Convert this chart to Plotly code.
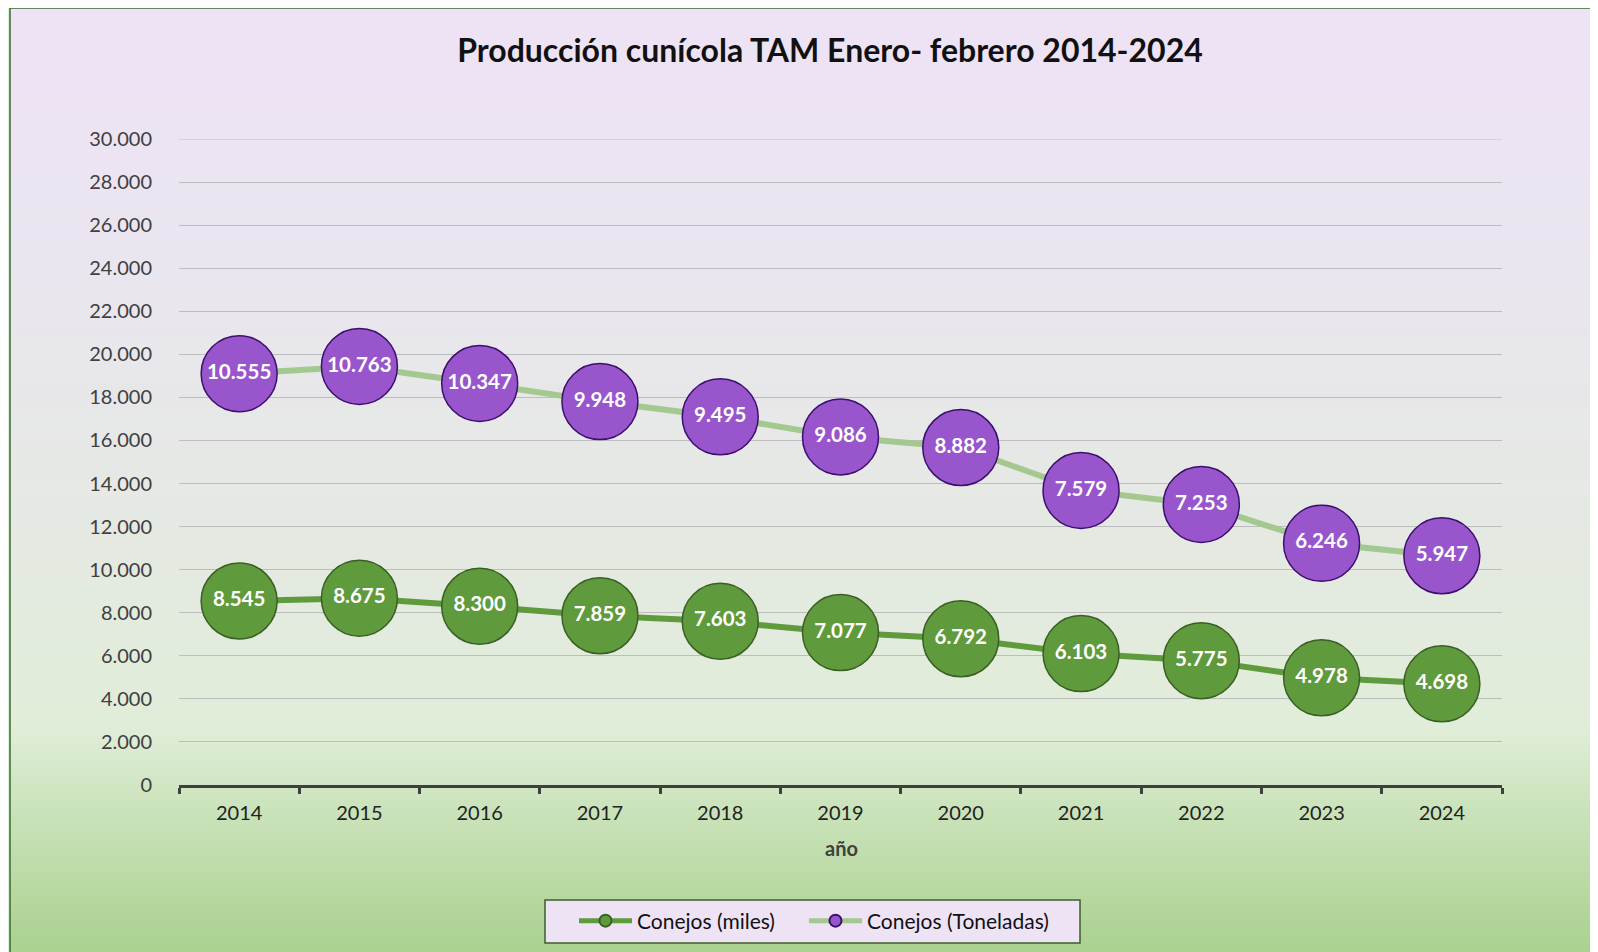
import plotly.graph_objects as go
import numpy as np

years = ["2014", "2015", "2016", "2017", "2018", "2019", "2020", "2021", "2022", "2023", "2024"]
conejos_miles = [8545, 8675, 8300, 7859, 7603, 7077, 6792, 6103, 5775, 4978, 4698]
conejos_toneladas = [10555, 10763, 10347, 9948, 9495, 9086, 8882, 7579, 7253, 6246, 5947]
y_ticks = [0, 2000, 4000, 6000, 8000, 10000, 12000, 14000, 16000, 18000, 20000,
           22000, 24000, 26000, 28000, 30000]

W, H = 1598, 952
O = 8  # page offset of the figure in the screenshot
# plot area in screen coordinates
SX0, SX1, SY0, SY1 = 179, 1502, 139, 785
L = SX0 - O
R = W - (SX1 - O)
T = SY0 - O
B = H - (SY1 - O)
pw, ph = W - L - R, H - T - B

def px_x(x):
    return (x - O - L) / pw

def px_y(y):
    return (H - B - (y - O)) / ph

def fmt(v):
    return f"{v:,}".replace(",", ".")

# stacked cumulative (line chart stacked)
stack_top = list(np.array(conejos_miles) + np.array(conejos_toneladas))

font_fam = "Lato, 'Open Sans', sans-serif"

fig = go.Figure()
fig.add_trace(go.Scatter(
    x=years, y=conejos_miles, name="Conejos (miles)",
    mode="lines+markers+text",
    line=dict(color="#5F9A3C", width=6),
    marker=dict(size=76, color="#5F9A3C", line=dict(color="#3A5F24", width=1.5)),
    text=[fmt(v) for v in conejos_miles], textposition="middle center",
    textfont=dict(color="white", size=20.5, family=font_fam, weight="bold"),
    cliponaxis=False, legend="legend",
))
fig.add_trace(go.Scatter(
    x=years, y=stack_top, name="Conejos (Toneladas)",
    mode="lines+markers+text",
    line=dict(color="#A3C990", width=6),
    marker=dict(size=76, color="#9955CC", line=dict(color="#3C0F6E", width=1.5)),
    text=[fmt(v) for v in conejos_toneladas], textposition="middle center",
    textfont=dict(color="white", size=20.5, family=font_fam, weight="bold"),
    cliponaxis=False, legend="legend2",
))

# gradient background via bands
stops = [(0, (239, 226, 246)), (300, (233, 230, 238)), (520, (229, 233, 227)),
         (730, (224, 237, 216)), (800, (205, 228, 190)), (960, (168, 208, 141))]

def col_at(y):
    for (y0, c0), (y1, c1) in zip(stops[:-1], stops[1:]):
        if y0 <= y <= y1:
            t = (y - y0) / (y1 - y0)
            return tuple(int(round(a + (b - a) * t)) for a, b in zip(c0, c1))
    return stops[-1][1]

shapes = []
step = 8
for y in range(8, H + 16, step):
    c = col_at(y + step / 2)
    shapes.append(dict(type="rect", xref="paper", yref="paper",
                       x0=px_x(10), x1=px_x(W + 20), y0=px_y(y + step + 1), y1=px_y(y),
                       fillcolor=f"rgb({c[0]},{c[1]},{c[2]})", line=dict(width=0),
                       layer="below"))
shapes.append(dict(type="rect", xref="paper", yref="paper",
                   x0=px_x(10), x1=px_x(W + 30), y0=px_y(H + 30), y1=px_y(8),
                   fillcolor="rgba(0,0,0,0)", line=dict(color="#3B6B2A", width=1.5),
                   layer="below"))
# top gridline at the range edge
shapes.append(dict(type="line", xref="paper", yref="y", x0=0, x1=1,
                   y0=y_ticks[-1], y1=y_ticks[-1],
                   line=dict(color="#BDBDBD", width=1.2), layer="below"))
# legend box
shapes.append(dict(type="rect", xref="paper", yref="paper",
                   x0=px_x(545), x1=px_x(1080), y0=px_y(943), y1=px_y(900),
                   fillcolor="#EEE3F5", line=dict(color="#3B5F2A", width=1.5),
                   layer="below"))

legend_common = dict(orientation="h", xanchor="left", yanchor="middle", y=px_y(921),
                     bgcolor="rgba(0,0,0,0)", borderwidth=0,
                     font=dict(size=21, color="#111111", family=font_fam),
                     itemsizing="constant", itemwidth=53)

fig.update_layout(
    width=W, height=H,
    margin=dict(l=L, r=R, t=T, b=B),
    paper_bgcolor="#DCEFE0",
    plot_bgcolor="rgba(0,0,0,0)",
    separators=",.",
    shapes=shapes,
    font=dict(family=font_fam, color="#404040"),
    title=dict(text="<b>Producción cunícola TAM Enero- febrero 2014-2024</b>",
               x=px_x(830), xref="paper", xanchor="center",
               y=1 - (51 - O) / H, yref="container", yanchor="middle",
               font=dict(size=32, color="#111111", family=font_fam)),
    xaxis=dict(type="category", range=[-0.5, 10.5], showgrid=False,
               showline=True, linecolor="#404040", linewidth=3,
               ticks="outside", tickson="boundaries", ticklen=6, tickwidth=3,
               tickcolor="#404040", ticklabelstandoff=8,
               tickfont=dict(size=20, color="#222222", family=font_fam)),
    yaxis=dict(range=[0, 30000], tickvals=y_ticks, tickformat=",d",
               showgrid=True, gridcolor="#BDBDBD", gridwidth=1.2,
               zeroline=False, showline=False, ticks="",
               ticklabelstandoff=26,
               tickfont=dict(size=20, color="#404040", family=font_fam)),
    legend=dict(x=px_x(574), **legend_common),
    legend2=dict(x=px_x(804), **legend_common),
    showlegend=True,
)
fig.add_annotation(text="<b>año</b>", xref="paper", yref="paper",
                   x=px_x(841), y=px_y(848), showarrow=False,
                   xanchor="center", yanchor="middle",
                   font=dict(size=20, color="#404040", family=font_fam))

fig.write_html("out.html")
